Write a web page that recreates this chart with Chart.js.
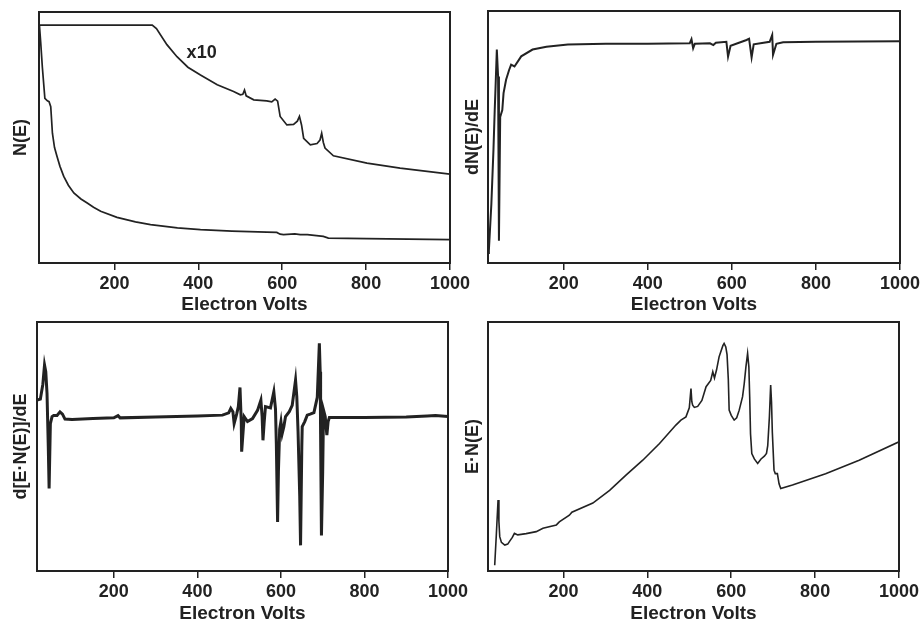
<!DOCTYPE html>
<html>
<head>
<meta charset="utf-8">
<title>Auger spectra</title>
<script src="https://cdn.jsdelivr.net/npm/chart.js@4.4.0/dist/chart.umd.min.js"></script>
<style>
  body { margin: 0; background: #fff; }
  #wrap { position: relative; width: 921px; height: 623px; overflow: hidden; }
  canvas { position: absolute; }
</style>
</head>
<body>
<div id="wrap">
  <canvas id="ne" width="470" height="318" style="left:0;top:0"></canvas>
  <canvas id="dne" width="461" height="318" style="left:460px;top:0"></canvas>
  <canvas id="dene" width="470" height="305" style="left:0;top:318px"></canvas>
  <canvas id="ene" width="461" height="305" style="left:460px;top:318px"></canvas>
</div>
<script>
// x axis labels, shared by all four panels
const xTicks = [200, 400, 600, 800, 1000];
const xTitle = 'Electron Volts';

// N(E), raw and scaled x10 (arbitrary units, 0-100 of the plot height)
const neEnergy = [21, 24, 28, 34, 40, 44, 48, 52, 57, 63, 70, 79, 90, 103, 120, 135, 150, 167, 206, 250, 286, 350, 405, 480, 563, 587, 595, 603, 630, 643, 660, 698, 710, 802, 900, 1000];
const neValues = [94.8, 88, 78, 65.6, 64.6, 64.3, 62.3, 51.7, 46, 42.4, 38.5, 34.5, 31, 27.9, 25.5, 23.9, 22.2, 20.6, 18.2, 16.4, 15.3, 14, 13.3, 12.7, 12.3, 12.2, 11.5, 11.3, 11.6, 11.3, 11.3, 10.6, 9.9, 9.7, 9.5, 9.3];

const nex10Energy = [21, 290, 300, 325, 349, 375, 405, 445, 484, 500, 506, 510, 514, 532, 563, 575, 583, 589, 595, 611, 627, 636, 641, 646, 651, 667, 683, 690, 694, 698, 702, 722, 802, 881, 1000];
const nex10Values = [94.8, 94.8, 93.4, 87, 82.2, 78, 74.9, 71, 68.3, 67, 67.2, 68.9, 66.6, 65, 64.6, 64.2, 65.3, 64.5, 58.4, 55, 55.2, 56.5, 58.4, 55, 49.7, 47.1, 47.6, 49, 51.7, 48, 45.8, 42.7, 39.8, 37.8, 35.4];

// dN(E)/dE
const dneEnergy = [20, 22, 28, 33, 36, 38, 41, 44, 46, 49, 54, 57, 63, 70, 75, 83, 99, 126, 159, 210, 300, 400, 500, 504, 508, 512, 548, 556, 562, 587, 591, 597, 635, 641, 647, 652, 690, 696, 698, 706, 722, 800, 1000];
const dneValues = [4, 4.8, 23.4, 45, 60.7, 70, 84.7, 74, 8.8, 58, 60.7, 67.4, 72.7, 76.5, 78.7, 78, 82, 84.7, 85.8, 86.7, 87, 87, 87.2, 88.8, 85.2, 87, 87.2, 86.5, 87.4, 87.8, 81.9, 86.2, 88.5, 89, 81.6, 86.8, 87.8, 90.5, 82.6, 87, 87.6, 87.8, 88];

// d[E·N(E)]/dE
const deneEnergy = [16, 24, 30, 34, 37, 40, 43, 45, 48, 52, 56, 64, 71, 77, 83, 100, 150, 200, 210, 215, 300, 400, 460, 475, 480, 485, 488, 494, 498, 502, 505, 506, 512, 520, 532, 544, 552, 555, 557, 560, 563, 575, 583, 587, 589, 592, 594, 597, 600, 603, 607, 611, 620, 627, 635, 638, 641, 645, 647, 650, 651, 657, 663, 670, 679, 687, 692, 694, 695, 697, 700, 702, 706, 710, 713, 716, 722, 800, 900, 950, 970, 1000];
const deneValues = [68.6, 69, 75, 82.7, 80, 71.3, 50, 33.1, 59.2, 62, 62.5, 62.5, 63.9, 63, 61, 60.8, 61.2, 61.5, 62.4, 61.5, 61.8, 62.2, 62.6, 63.5, 65.3, 64, 59.2, 63, 66, 73.7, 60, 47.9, 62, 60, 61.2, 64.5, 68.6, 62, 52.5, 60, 66, 65.5, 72, 65, 51.2, 19.7, 40, 57, 60, 55.2, 58, 62, 64, 66.5, 76.7, 70, 56, 30, 10.3, 50, 58, 60, 62.6, 63, 63.6, 69.7, 91.4, 80, 55, 14.3, 40, 64.6, 62, 54.6, 60, 61.6, 61.6, 61.6, 61.8, 62.2, 62.4, 62];

// E·N(E)
const eneEnergy = [36, 40, 44, 46, 48, 52, 60, 67, 71, 78, 83, 91, 111, 135, 151, 183, 190, 214, 220, 270, 310, 349, 389, 429, 468, 480, 492, 500, 504, 506, 508, 512, 520, 530, 540, 551, 556, 560, 565, 571, 580, 583, 587, 590, 593, 595, 600, 607, 613, 619, 627, 631, 635, 639, 642, 644, 646, 649, 655, 663, 671, 679, 684, 687, 691, 694, 696, 698, 702, 705, 710, 714, 718, 746, 825, 905, 1000];
const eneValues = [2.3, 15, 28.5, 20, 13.8, 11.5, 10.4, 10.8, 11.8, 13.5, 15.1, 14.5, 15, 15.8, 17.2, 18.5, 19.7, 22.4, 23.6, 27.3, 32.4, 38.5, 44.5, 51.2, 58.6, 60.6, 61.9, 65.5, 73.3, 68, 66.6, 65.7, 66.1, 68.5, 74, 76.5, 80, 77.5, 80.8, 86, 90.5, 91.4, 90, 86.9, 77, 64.6, 62.5, 60.6, 61.5, 64.6, 70, 75.3, 82, 87.4, 82, 70, 55, 47.2, 45, 43.2, 45, 46.1, 47.2, 50.3, 62, 74.7, 68, 55.6, 40.5, 39.1, 39.1, 35, 33.1, 34.5, 39.1, 44.5, 51.9];

const ink = '#222';
const family = '"Liberation Sans", Arial, sans-serif';

function points(xs, ys) {
    return xs.map((x, i) => ({ x: x, y: ys[i] }));
}

// frame round the plot area plus an optional text note placed in data units
const framePlugin = {
    id: 'frame',
    afterDatasetsDraw(chart, args, opts) {
        const a = chart.chartArea;
        const ctx = chart.ctx;
        ctx.save();
        ctx.strokeStyle = ink;
        ctx.lineWidth = 2;
        ctx.strokeRect(a.left, a.top, a.right - a.left, a.bottom - a.top);
        if (opts.note) {
            ctx.fillStyle = ink;
            ctx.font = 'bold 18px ' + family;
            ctx.textAlign = 'left';
            ctx.textBaseline = 'middle';
            ctx.fillText(opts.note.text,
                chart.scales.x.getPixelForValue(opts.note.x),
                chart.scales.y.getPixelForValue(opts.note.y));
        }
        ctx.restore();
    }
};

function spectrum(id, series, o) {
    return new Chart(document.getElementById(id), {
        type: 'line',
        data: {
            datasets: series.map(s => ({
                data: points(s.x, s.y),
                borderColor: ink,
                borderWidth: o.lineWidth,
                pointRadius: 0,
                tension: 0
            }))
        },
        options: {
            responsive: false,
            animation: false,
            layout: { padding: { top: o.top, right: o.right, left: 0, bottom: 0 } },
            plugins: {
                legend: { display: false },
                tooltip: { enabled: false },
                frame: { note: o.note }
            },
            scales: {
                x: {
                    type: 'linear',
                    min: o.xMin,
                    max: 1000,
                    afterBuildTicks: s => { s.ticks = xTicks.map(v => ({ value: v })); },
                    afterFit: s => { s.height = o.xHeight; s.paddingLeft = 0; s.paddingRight = 0; },
                    border: { display: false },
                    grid: { drawOnChartArea: false, drawTicks: true, tickLength: 7, color: ink, lineWidth: 1.5 },
                    ticks: {
                        color: ink, padding: 3, maxRotation: 0, autoSkip: false,
                        callback: v => String(v),
                        font: { family: family, size: 18, weight: 'bold' }
                    },
                    title: {
                        display: true, text: xTitle, color: ink,
                        font: { family: family, size: 19, weight: 'bold', lineHeight: 1 },
                        padding: { top: 0, bottom: o.xTitlePad }
                    }
                },
                y: {
                    type: 'linear',
                    min: 0,
                    max: 100,
                    afterFit: s => { s.width = o.yWidth; },
                    border: { display: false },
                    grid: { display: false },
                    ticks: { display: false },
                    title: {
                        display: true, text: o.yTitle, color: ink,
                        font: { family: family, size: 18, weight: 'bold', lineHeight: 1 },
                        padding: { top: o.yTitlePad, bottom: 0 }
                    }
                }
            }
        },
        plugins: [framePlugin]
    });
}

spectrum('ne', [{ x: neEnergy, y: neValues }, { x: nex10Energy, y: nex10Values }], {
    yTitle: 'N(E)', xMin: 20, top: 12, right: 20, yWidth: 39, xHeight: 55,
    xTitlePad: 4, yTitlePad: 12, lineWidth: 1.7,
    note: { text: 'x10', x: 372, y: 83.6 }
});

spectrum('dne', [{ x: dneEnergy, y: dneValues }], {
    yTitle: 'dN(E)/dE', xMin: 20, top: 11, right: 21, yWidth: 28, xHeight: 55,
    xTitlePad: 4, yTitlePad: 4, lineWidth: 2
});

spectrum('dene', [{ x: deneEnergy, y: deneValues }], {
    yTitle: 'd[E·N(E)]/dE', xMin: 16, top: 4, right: 22, yWidth: 37, xHeight: 52,
    xTitlePad: 0, yTitlePad: 12, lineWidth: 3
});

spectrum('ene', [{ x: eneEnergy, y: eneValues }], {
    yTitle: 'E·N(E)', xMin: 20, top: 4, right: 22, yWidth: 28, xHeight: 52,
    xTitlePad: 0, yTitlePad: 4, lineWidth: 1.6
});
</script>
</body>
</html>
